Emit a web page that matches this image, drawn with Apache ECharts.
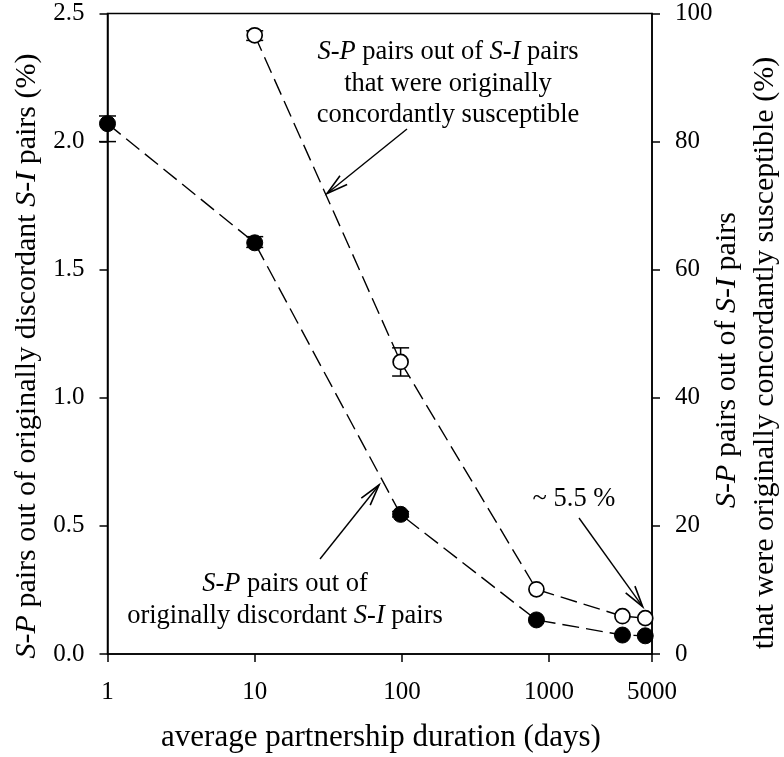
<!DOCTYPE html>
<html><head><meta charset="utf-8">
<script src="https://cdn.jsdelivr.net/npm/echarts@6/dist/echarts.min.js"></script>
<style>html,body{margin:0;padding:0;background:#fff}#c{width:784px;height:757px}</style>
</head><body><div id="c"></div>
<script>
// ---- data ----
const durations = [1, 10, 98, 820, 3150, 4500];               // average partnership duration (days)
const discordantPct = [2.07, 1.605, 0.545, 0.133, 0.074, 0.071]; // left axis, %
const discordantLow = [2.00, 1.587, 0.535, null, null, null];
const discordantHigh = [2.10, 1.629, 0.556, null, null, null];
const concordantDurations = [10, 98, 820, 3150, 4500];
const concordantPct = [96.6, 45.6, 10.1, 5.9, 5.6];               // right axis, %
const concordantLow = [95.8, 43.4, null, null, null];
const concordantHigh = [97.3, 47.8, null, null, null];
const xRange = [1, 5000];
const leftTicks = [0, 0.5, 1.0, 1.5, 2.0, 2.5];
const rightTicks = [0, 20, 40, 60, 80, 100];

const FONT = '"Liberation Serif","Times New Roman",serif';
const chart = echarts.init(document.getElementById('c'), null, {renderer: 'canvas'});

function pairs(xs, ys) { return xs.map((x, i) => [x, ys[i]]); }
function errData(xs, lo, hi) {
  const out = [];
  xs.forEach((x, i) => { if (lo[i] != null && hi[i] != null) out.push([x, lo[i], hi[i]]); });
  return out;
}
function errRender(params, api) {
  const x = api.value(0), lo = api.value(1), hi = api.value(2);
  const p1 = api.coord([x, lo]), p2 = api.coord([x, hi]);
  const w = 8.5, st = {stroke: '#000', lineWidth: 1.5};
  return {type: 'group', children: [
    {type: 'line', shape: {x1: p1[0], y1: p1[1], x2: p2[0], y2: p2[1]}, style: st},
    {type: 'line', shape: {x1: p1[0] - w, y1: p1[1], x2: p1[0] + w, y2: p1[1]}, style: st},
    {type: 'line', shape: {x1: p2[0] - w, y1: p2[1], x2: p2[0] + w, y2: p2[1]}, style: st}
  ]};
}

const axisCommon = {
  axisLine: {show: true, lineStyle: {color: '#000', width: 1.5}},
  axisTick: {show: true, inside: false, length: 8, lineStyle: {color: '#000', width: 1.5}},
  splitLine: {show: false},
  minorTick: {show: false},
  axisLabel: {color: '#000', fontFamily: FONT, fontSize: 25, margin: 22}
};

const option = {
  animation: false,
  backgroundColor: '#fff',
  grid: {left: 107.5, right: 132, top: 13.5, bottom: 103, show: true, borderColor: '#000', borderWidth: 1.5, backgroundColor: 'transparent'},
  xAxis: Object.assign({}, axisCommon, {
    type: 'log', logBase: 10, min: xRange[0], max: xRange[1],
    axisLabel: Object.assign({}, axisCommon.axisLabel, {margin: 26, formatter: v => String(Math.round(v))})
  }),
  yAxis: [
    Object.assign({}, axisCommon, {
      type: 'value', position: 'left', min: leftTicks[0], max: leftTicks[leftTicks.length - 1],
      interval: leftTicks[1] - leftTicks[0],
      axisLabel: Object.assign({}, axisCommon.axisLabel, {margin: 23, formatter: v => v.toFixed(1)})
    }),
    Object.assign({}, axisCommon, {
      type: 'value', position: 'right', min: rightTicks[0], max: rightTicks[rightTicks.length - 1],
      interval: rightTicks[1] - rightTicks[0],
      axisLabel: Object.assign({}, axisCommon.axisLabel, {margin: 23})
    })
  ],
  series: [
    {type: 'custom', yAxisIndex: 0, renderItem: errRender, data: errData(durations, discordantLow, discordantHigh), encode: {x: 0, y: [1, 2]}, z: 1, silent: true},
    {type: 'custom', yAxisIndex: 1, renderItem: errRender, data: errData(concordantDurations, concordantLow, concordantHigh), encode: {x: 0, y: [1, 2]}, z: 1, silent: true},
    {type: 'line', yAxisIndex: 0, data: pairs(durations, discordantPct), symbol: 'circle', symbolSize: 16,
     itemStyle: {color: '#000', borderColor: '#000', borderWidth: 1},
     lineStyle: {color: '#000', width: 1.4, type: [17, 7]}, z: 3, silent: true},
    {type: 'line', yAxisIndex: 1, data: pairs(concordantDurations, concordantPct), symbol: 'circle', symbolSize: 15,
     itemStyle: {color: '#fff', borderColor: '#000', borderWidth: 1.7},
     lineStyle: {color: '#000', width: 1.4, type: [17, 7]}, z: 3, silent: true}
  ]
};
chart.setOption(option);

// ---- annotations (text + arrows) ----
function rich(size) {
  return {
    n: {fontFamily: FONT, fontSize: size, fill: '#000'},
    i: {fontFamily: FONT, fontSize: size, fontStyle: 'italic', fill: '#000'}
  };
}
function txt(x, y, text, size, rot, lh) {
  return {type: 'text', x: x, y: y, rotation: rot || 0, z: 10,
    style: {text: text, rich: rich(size), fontFamily: FONT, fontSize: size, fill: '#000',
      align: 'center', verticalAlign: 'middle', lineHeight: lh || size * 1.2}};
}
function arrow(x0, y0, x1, y1) {
  const ang = Math.atan2(y1 - y0, x1 - x0), L = 22, a = 15 * Math.PI / 180;
  const h1 = [x1 - L * Math.cos(ang - a), y1 - L * Math.sin(ang - a)];
  const h2 = [x1 - L * Math.cos(ang + a), y1 - L * Math.sin(ang + a)];
  return [
    {type: 'line', z: 10, shape: {x1: x0, y1: y0, x2: x1, y2: y1}, style: {stroke: '#000', lineWidth: 1.4}},
    {type: 'polyline', z: 10, shape: {points: [h1, [x1, y1], h2]}, style: {stroke: '#000', lineWidth: 1.6, fill: null}}
  ];
}
const graphics = [
  txt(448, 84, '{i|S}{n|-}{i|P}{n| pairs out of }{i|S}{n|-}{i|I}{n| pairs}\n{n|that were originally}\n{n|concordantly susceptible}', 26.5, 0, 31.5),
  txt(285, 600, '{i|S}{n|-}{i|P}{n| pairs out of}\n{n|originally discordant }{i|S}{n|-}{i|I}{n| pairs}', 26.5, 0, 31.5),
  txt(574, 499, '{n|~ 5.5 %}', 26.5, 0),
  txt(381, 738, '{n|average partnership duration (days)}', 31, 0),
  txt(27, 356, '{i|S}{n|-}{i|P}{n| pairs out of originally discordant }{i|S}{n|-}{i|I}{n| pairs (%)}', 30, Math.PI / 2),
  txt(727, 360, '{i|S}{n|-}{i|P}{n| pairs out of }{i|S}{n|-}{i|I}{n| pairs}', 30, Math.PI / 2),
  txt(765, 353, '{n|that were originally concordantly susceptible (%)}', 30, Math.PI / 2)
].concat(arrow(407, 129, 327, 193.5), arrow(320, 559, 379, 485), arrow(579, 518, 642.7, 606.7));
chart.setOption({graphic: {elements: graphics}});
</script>
</body></html>
